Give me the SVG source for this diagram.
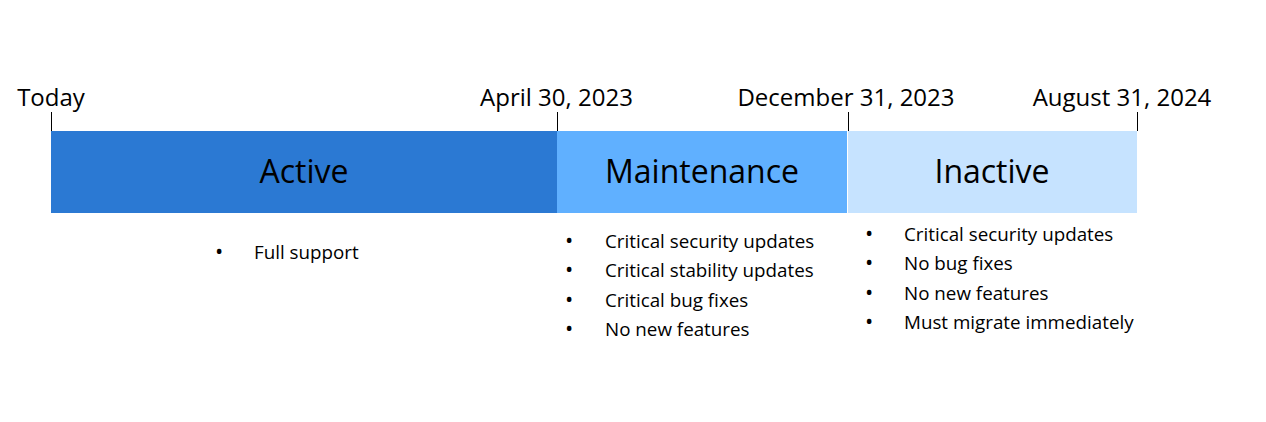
<svg xmlns="http://www.w3.org/2000/svg" width="1266" height="422" viewBox="0 0 1266 422">
<style>
.date{font-family:"Open Sans","Noto Sans",sans-serif;font-size:24px;fill:#000;text-anchor:middle}
.phase{font-family:"Open Sans","Noto Sans",sans-serif;font-size:32px;fill:#000;text-anchor:middle}
.item{font-family:"Open Sans","Noto Sans",sans-serif;font-size:18.8px;fill:#000}
.bul{font-family:"Open Sans","Noto Sans",sans-serif;font-size:22px;fill:#000}
.tick{stroke:#000;stroke-width:1}
</style>
<rect width="1266" height="422" fill="#fff"/>
<g id="ticks">
<line class="tick" x1="51.5" y1="112" x2="51.5" y2="131"/>
<line class="tick" x1="557.5" y1="112" x2="557.5" y2="131"/>
<line class="tick" x1="848.5" y1="112" x2="848.5" y2="131"/>
<line class="tick" x1="1137.5" y1="112" x2="1137.5" y2="131"/>
</g>
<g id="dates">
<text class="date" x="51" y="106">Today</text>
<text class="date" x="556.5" y="106">April 30, 2023</text>
<text class="date" x="846" y="106">December 31, 2023</text>
<text class="date" x="1122" y="106">August 31, 2024</text>
</g>
<g id="active">
<rect x="51" y="131" width="506" height="82" fill="#2B79D3"/>
<text class="phase" x="304" y="183">Active</text>
<text class="bul" x="215" y="259">•</text>
<text class="item" x="254" y="259">Full support</text>
</g>
<g id="maintenance">
<rect x="557" y="131" width="290" height="82" fill="#60B0FF"/>
<text class="phase" x="702" y="183">Maintenance</text>
<text class="bul" x="565" y="248">•</text>
<text class="item" x="605" y="248">Critical security updates</text>
<text class="bul" x="565" y="277">•</text>
<text class="item" x="605" y="277">Critical stability updates</text>
<text class="bul" x="565" y="307">•</text>
<text class="item" x="605" y="307">Critical bug fixes</text>
<text class="bul" x="565" y="336">•</text>
<text class="item" x="605" y="336">No new features</text>
</g>
<g id="inactive">
<rect x="848" y="131" width="289" height="82" fill="#C6E3FF"/>
<text class="phase" x="992" y="183">Inactive</text>
<text class="bul" x="865" y="241">•</text>
<text class="item" x="904" y="241">Critical security updates</text>
<text class="bul" x="865" y="270">•</text>
<text class="item" x="904" y="270">No bug fixes</text>
<text class="bul" x="865" y="300">•</text>
<text class="item" x="904" y="300">No new features</text>
<text class="bul" x="865" y="329">•</text>
<text class="item" x="904" y="329">Must migrate immediately</text>
</g>
</svg>
